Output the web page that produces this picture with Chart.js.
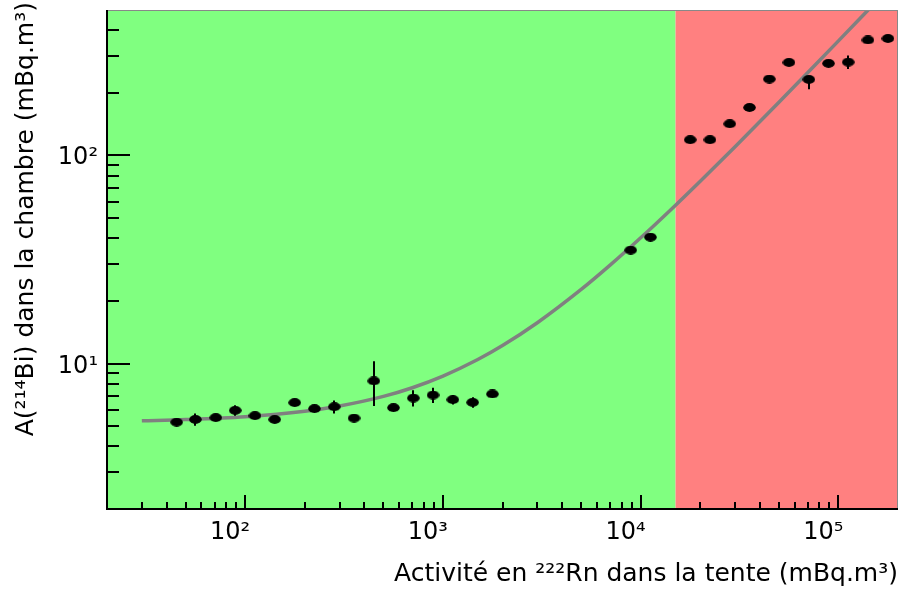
<!DOCTYPE html>
<html>
<head>
<meta charset="utf-8">
<script src="https://cdn.jsdelivr.net/npm/chart.js@4.4.1/dist/chart.umd.min.js"></script>
<style>
  html, body { margin: 0; padding: 0; background: #fff; }
</style>
</head>
<body>
<canvas id="chart" width="901" height="590"></canvas>
<script>
    // mesures : activité Rn dans la tente (x) et Bi dans la chambre (y)
    const rnTente = [45, 56, 71, 89, 112, 141, 178, 224, 282, 355, 447, 562, 708, 891, 1122, 1413, 1778,
                     8900, 11200, 17800, 22400, 28200, 35500, 44700, 56200, 70800, 89100, 112000, 141000, 178000];
    const biChambre = [5.23, 5.39, 5.50, 5.96, 5.62, 5.39, 6.49, 6.07, 6.2, 5.47, 8.25, 6.14, 6.83, 7.06, 6.71, 6.51, 7.14,
                       35.1, 40.5, 119, 119, 142, 170, 233, 280, 232, 277, 281, 359, 365];
    const errBas = [0.12, 0.37, 0.15, 0.35, 0.15, 0.12, 0.15, 0.2, 0.45, 0.1, 2.0, 0.2, 0.62, 0.6, 0.35, 0.38, 0.15,
                    1, 1.2, 3, 3, 4, 5, 6, 7, 24, 7, 21, 8, 8];
    const errHaut = [0.12, 0.37, 0.15, 0.35, 0.15, 0.12, 0.15, 0.2, 0.45, 0.1, 2.0, 0.2, 0.62, 0.6, 0.35, 0.38, 0.15,
                     1, 1.2, 3, 3, 4, 5, 6, 7, 5, 7, 21, 8, 8];

    // courbe d'ajustement
    const fitRn = [30, 50, 100, 200, 300, 500, 700, 1000, 1500, 2000, 3000, 5000, 7000, 10000, 15000, 20000, 30000, 50000, 70000, 100000, 145000];
    const fitBi = [5.31, 5.38, 5.55, 5.9, 6.25, 6.95, 7.65, 8.7, 10.45, 12.2, 15.7, 22.7, 29.7, 40.2, 57.7, 75.2, 110.2, 180.2, 250.2, 355.2, 512.7];

    const limiteRouge = 15000;
    const xTickValues = [100, 1000, 10000, 100000];
    const xTickLabels = ['10²', '10³', '10⁴', '10⁵'];
    const yTickValues = [10, 100];
    const yTickLabels = ['10¹', '10²'];
    const xTitre = 'Activité en ²²²Rn dans la tente (mBq.m³)';
    const yTitre = 'A(²¹⁴Bi) dans la chambre (mBq.m³)';

    const POLICE = '"DejaVu Sans", sans-serif';

    function marqueur() {
        const c = document.createElement('canvas');
        c.width = 13; c.height = 9;
        const g = c.getContext('2d');
        g.fillStyle = '#000';
        g.beginPath();
        g.ellipse(6.5, 4.5, 6.3, 4.4, 0, 0, Math.PI * 2);
        g.fill();
        return c;
    }

    function graduations(scale) {
        const out = [];
        const d0 = Math.floor(Math.log10(scale.min)), d1 = Math.ceil(Math.log10(scale.max));
        for (let d = d0; d <= d1; d++) {
            for (let m = 1; m <= 9; m++) {
                const v = m * Math.pow(10, d);
                if (v > scale.min * 1.001 && v < scale.max * 0.999) out.push({ v, major: m === 1 });
            }
        }
        return out;
    }

    const decor = {
        id: 'decor',
        beforeDatasetsDraw(chart) {
            const { ctx, chartArea: a, scales: { x } } = chart;
            const xr = x.getPixelForValue(limiteRouge);
            ctx.save();
            ctx.fillStyle = '#80ff80';
            ctx.fillRect(a.left, a.top, xr - a.left, a.bottom - a.top);
            ctx.fillStyle = '#ff8080';
            ctx.fillRect(xr, a.top, a.right - xr, a.bottom - a.top);
            ctx.restore();
        },
        afterDatasetsDraw(chart) {
            const { ctx, scales: { x, y } } = chart;
            ctx.save();
            ctx.strokeStyle = '#000';
            ctx.lineWidth = 2;
            rnTente.forEach((xv, i) => {
                const px = Math.round(x.getPixelForValue(xv));
                ctx.beginPath();
                ctx.moveTo(px, y.getPixelForValue(biChambre[i] + errHaut[i]));
                ctx.lineTo(px, y.getPixelForValue(biChambre[i] - errBas[i]));
                ctx.stroke();
            });
            ctx.restore();
        },
        afterDraw(chart) {
            const { ctx, chartArea: a, scales: { x, y } } = chart;
            ctx.save();
            // cadre
            ctx.strokeStyle = '#888';
            ctx.lineWidth = 1;
            ctx.strokeRect(a.left + 0.5, a.top + 0.5, a.right - a.left - 1, a.bottom - a.top - 1);
            ctx.strokeStyle = '#000';
            ctx.lineWidth = 2;
            ctx.beginPath();
            ctx.moveTo(a.left, a.top);
            ctx.lineTo(a.left, a.bottom);
            ctx.lineTo(a.right, a.bottom);
            ctx.stroke();
            // graduations intérieures
            graduations(x).forEach(t => {
                const px = Math.round(x.getPixelForValue(t.v));
                ctx.beginPath();
                ctx.moveTo(px, a.bottom);
                ctx.lineTo(px, a.bottom - (t.major ? 14 : 7));
                ctx.stroke();
            });
            graduations(y).forEach(t => {
                const py = Math.round(y.getPixelForValue(t.v));
                ctx.beginPath();
                ctx.moveTo(a.left, py);
                ctx.lineTo(a.left + (t.major ? 23 : 12), py);
                ctx.stroke();
            });
            // étiquettes
            ctx.fillStyle = '#000';
            ctx.font = '24px ' + POLICE;
            ctx.textAlign = 'right';
            ctx.textBaseline = 'alphabetic';
            xTickValues.forEach((v, i) => {
                ctx.fillText(xTickLabels[i], x.getPixelForValue(v) + 5, a.bottom + 30);
            });
            yTickValues.forEach((v, i) => {
                ctx.fillText(yTickLabels[i], a.left - 9, y.getPixelForValue(v) + 9);
            });
            // titres
            ctx.font = '25px ' + POLICE;
            ctx.fillText(xTitre, a.right, 581);
            ctx.translate(33, 2);
            ctx.rotate(-Math.PI / 2);
            ctx.fillText(yTitre, 0, 0);
            ctx.restore();
        }
    };

    const chart = new Chart(document.getElementById('chart'), {
        type: 'scatter',
        data: {
            datasets: [
                {
                    data: rnTente.map((v, i) => ({ x: v, y: biChambre[i] })),
                    pointStyle: marqueur(),
                    pointRadius: 6,
                    showLine: false,
                    order: 1
                },
                {
                    data: fitRn.map((v, i) => ({ x: v, y: fitBi[i] })),
                    showLine: true,
                    borderColor: '#808080',
                    borderWidth: 3.5,
                    pointRadius: 0,
                    cubicInterpolationMode: 'monotone',
                    order: 2
                }
            ]
        },
        options: {
            responsive: false,
            animation: false,
            layout: { autoPadding: false, padding: { left: 107, right: 3, top: 10, bottom: 81 } },
            scales: {
                x: { type: 'logarithmic', min: 20, max: 200000, display: false },
                y: { type: 'logarithmic', min: 2, max: 500, display: false }
            },
            plugins: { legend: { display: false }, tooltip: { enabled: false } }
        },
        plugins: [decor]
    });
</script>
</body>
</html>
